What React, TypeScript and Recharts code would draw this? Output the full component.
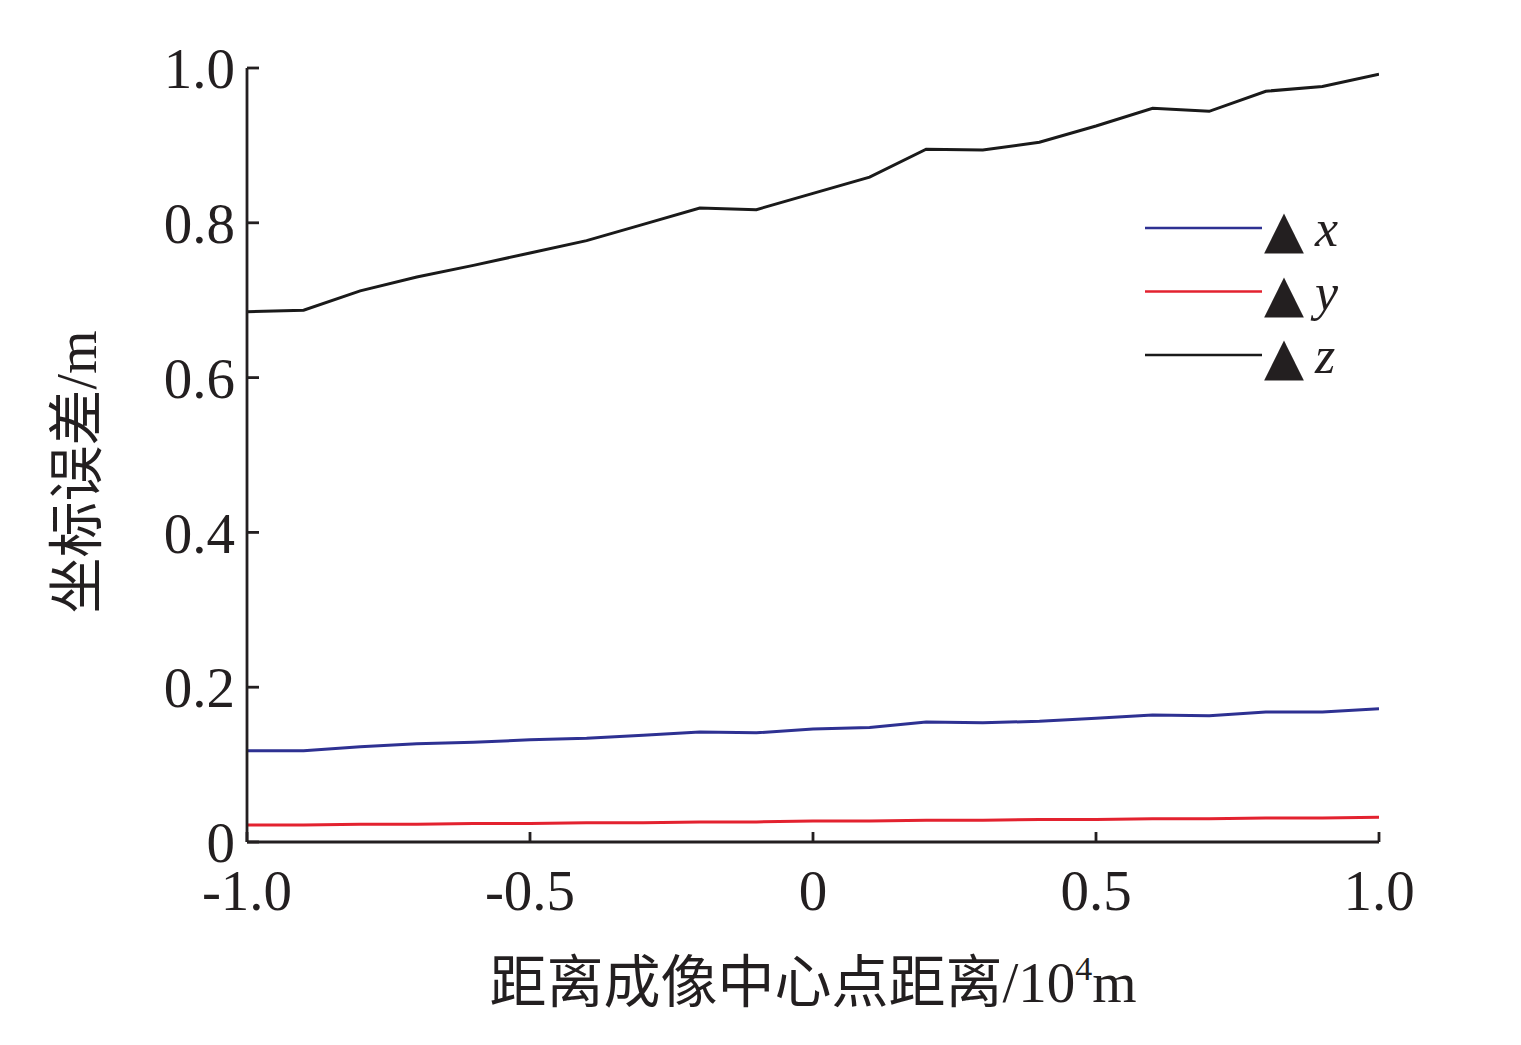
import React from 'react'
import { LineChart, Line, XAxis, YAxis, Legend, Label } from 'recharts'

// distance from image centre point, 10^4 m
const distances = [-1.0, -0.9, -0.8, -0.7, -0.6, -0.5, -0.4, -0.3, -0.2, -0.1, 0, 0.1, 0.2, 0.3, 0.4, 0.5, 0.6, 0.7, 0.8, 0.9, 1.0]

// coordinate error, m
const errorX = [0.118, 0.118, 0.123, 0.127, 0.129, 0.132, 0.134, 0.138, 0.142, 0.141, 0.146, 0.148, 0.155, 0.154, 0.156, 0.16, 0.164, 0.163, 0.168, 0.168, 0.172]
const errorY = [0.022, 0.022, 0.023, 0.023, 0.024, 0.024, 0.025, 0.025, 0.026, 0.026, 0.027, 0.027, 0.028, 0.028, 0.029, 0.029, 0.03, 0.03, 0.031, 0.031, 0.032]
const errorZ = [0.685, 0.687, 0.712, 0.73, 0.745, 0.761, 0.777, 0.798, 0.819, 0.817, 0.838, 0.859, 0.895, 0.894, 0.904, 0.925, 0.948, 0.944, 0.97, 0.976, 0.992]

const xTicks = [-1, -0.5, 0, 0.5, 1]
const xTickLabels = ['-1.0', '-0.5', '0', '0.5', '1.0']
const yTicks = [0, 0.2, 0.4, 0.6, 0.8, 1.0]
const yTickLabels = ['0', '0.2', '0.4', '0.6', '0.8', '1.0']

const seriesNames = ['x', 'y', 'z']
const seriesColors = ['#2e3192', '#e3222f', '#1a1a1a']

const data = distances.map((d, i) => ({
  d,
  x: errorX[i],
  y: errorY[i],
  z: errorZ[i],
}))

const AXIS = '#231f20'
const SERIF = '"Liberation Serif", "Times New Roman", serif'
const CJK = '"Noto Sans CJK SC", sans-serif'

const tickStyle = { fill: AXIS, fontSize: 57, fontFamily: SERIF }

function XTitle(props: any) {
  const vb = props.viewBox
  const cx = vb.x + vb.width / 2
  const y = vb.y + 160
  return (
    <text x={cx} y={y} textAnchor="middle" fontSize={57} fill={AXIS}>
      <tspan fontFamily={CJK}>距离成像中心点距离</tspan>
      <tspan fontFamily={SERIF}>/10</tspan>
      <tspan fontFamily={SERIF} fontSize={34} dy={-22}>4</tspan>
      <tspan fontFamily={SERIF} dy={22}>m</tspan>
    </text>
  )
}

function YTitle(props: any) {
  const vb = props.viewBox
  const x = vb.x - 51
  const y = vb.y + vb.height / 2 + 17
  return (
    <text
      x={x}
      y={y}
      textAnchor="middle"
      fontSize={56}
      fill={AXIS}
      transform={`rotate(-90, ${x}, ${y})`}
    >
      <tspan fontFamily={CJK}>坐标误差</tspan>
      <tspan fontFamily={SERIF}>/m</tspan>
    </text>
  )
}

function LegendBox() {
  return (
    <svg width={220} height={200}>
      {seriesNames.map((name, i) => {
        const cy = 33 + i * 63.5
        return (
          <g key={name}>
            <line x1={5} x2={122} y1={cy} y2={cy} stroke={seriesColors[i]} strokeWidth={2.5} />
            <text x={124} y={cy + 19} fontSize={52} fontFamily='"DejaVu Sans", sans-serif' fill="#231f20">
              ▲
            </text>
            <text x={175} y={cy + 18} fontSize={52} fontFamily={SERIF} fontStyle="italic" fill="#231f20">
              {name}
            </text>
          </g>
        )
      })}
    </svg>
  )
}

export default function App() {
  return (
    <div style={{ position: 'absolute', left: 0, top: 0, background: '#fff' }}>
      <LineChart
        width={1521}
        height={1045}
        data={data}
        margin={{ top: 68, right: 142, bottom: 143, left: 147 }}
      >
        <XAxis
          dataKey="d"
          type="number"
          domain={[-1, 1]}
          ticks={xTicks}
          tickFormatter={(v: number) => xTickLabels[xTicks.indexOf(v)] ?? String(v)}
          height={60}
          stroke={AXIS}
          strokeWidth={2.8}
          tickSize={-10}
          tickMargin={38}
          tick={tickStyle}
          allowDataOverflow
        >
          <Label content={XTitle} />
        </XAxis>
        <YAxis
          type="number"
          domain={[0, 1]}
          ticks={yTicks}
          tickFormatter={(v: number) => yTickLabels[yTicks.indexOf(v)] ?? String(v)}
          width={100}
          stroke={AXIS}
          strokeWidth={2.8}
          tickSize={-12}
          tickMargin={24}
          tick={tickStyle}
          allowDataOverflow
        >
          <Label content={YTitle} />
        </YAxis>
        <Legend
          content={LegendBox}
          layout="horizontal"
          verticalAlign="middle"
          align="center"
          wrapperStyle={{ position: 'absolute', left: 1140, top: 195, width: 220, height: 200 }}
        />
        {seriesNames.map((name, i) => (
          <Line
            key={name}
            dataKey={name}
            type="linear"
            stroke={seriesColors[i]}
            strokeWidth={3}
            dot={false}
            activeDot={false}
            isAnimationActive={false}
          />
        ))}
      </LineChart>
    </div>
  )
}
